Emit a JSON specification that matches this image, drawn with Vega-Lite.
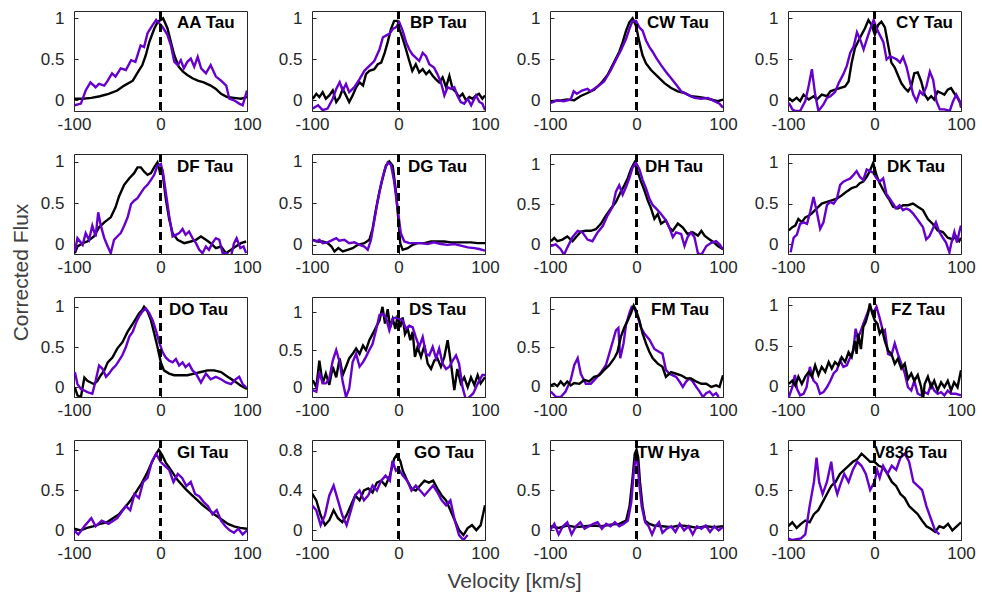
{
"$schema": "https://vega.github.io/schema/vega-lite/v6.json",
"padding": {"left": 9, "top": 8, "right": 5, "bottom": 5},
"background": "white",
"columns": 4,
"spacing": {"row": 43, "column": 65},
"bounds": "flush",
"config": {
  "view": {"stroke": "#262626", "strokeWidth": 1},
  "axis": {"grid": false, "domain": false, "tickSize": -4, "tickColor": "#262626", "tickWidth": 1, "labelFont": "Liberation Sans", "labelFontSize": 17, "labelColor": "#262626", "labelExpr": "'' + datum.value", "titleFont": "Liberation Sans", "titleFontSize": 21, "titleFontWeight": "normal", "titleColor": "#404040"},
  "axisX": {"labelPadding": 9, "labelFlush": false},
  "axisY": {"labelPadding": 14},
  "title": {"anchor": "start", "frame": "group", "offset": -23, "baseline": "alphabetic", "font": "Liberation Sans", "fontSize": 17, "fontWeight": "bold", "color": "#000000"},
  "line": {"strokeWidth": 2.4}
},
"datasets": {
"AA Tau": [
{"ser":"k","v":-100,"f":0.02},{"ser":"k","v":-90,"f":0.02},{"ser":"k","v":-80,"f":0.03},{"ser":"k","v":-70,"f":0.05},{"ser":"k","v":-60,"f":0.08},{"ser":"k","v":-50,"f":0.12},{"ser":"k","v":-42,"f":0.18},{"ser":"k","v":-32,"f":0.24},{"ser":"k","v":-27,"f":0.33},{"ser":"k","v":-21,"f":0.43},{"ser":"k","v":-17,"f":0.55},{"ser":"k","v":-13,"f":0.71},{"ser":"k","v":-7,"f":0.88},{"ser":"k","v":-3,"f":0.96},{"ser":"k","v":3,"f":1.0},{"ser":"k","v":8,"f":0.88},{"ser":"k","v":12,"f":0.71},{"ser":"k","v":16,"f":0.55},{"ser":"k","v":21,"f":0.41},{"ser":"k","v":26,"f":0.35},{"ser":"k","v":31,"f":0.31},{"ser":"k","v":37,"f":0.27},{"ser":"k","v":43,"f":0.24},{"ser":"k","v":50,"f":0.22},{"ser":"k","v":58,"f":0.18},{"ser":"k","v":64,"f":0.14},{"ser":"k","v":70,"f":0.08},{"ser":"k","v":77,"f":0.04},{"ser":"k","v":85,"f":0.03},{"ser":"k","v":93,"f":0.02},{"ser":"k","v":100,"f":0.04},
{"ser":"p","v":-99,"f":-0.06},{"ser":"p","v":-92,"f":-0.04},{"ser":"p","v":-86.5,"f":0.12},{"ser":"p","v":-81,"f":0.22},{"ser":"p","v":-75,"f":0.16},{"ser":"p","v":-71,"f":0.2},{"ser":"p","v":-65,"f":0.18},{"ser":"p","v":-61,"f":0.24},{"ser":"p","v":-56,"f":0.33},{"ser":"p","v":-52,"f":0.29},{"ser":"p","v":-46,"f":0.39},{"ser":"p","v":-40,"f":0.37},{"ser":"p","v":-34,"f":0.49},{"ser":"p","v":-29,"f":0.47},{"ser":"p","v":-23,"f":0.67},{"ser":"p","v":-19,"f":0.65},{"ser":"p","v":-15,"f":0.82},{"ser":"p","v":-9,"f":0.92},{"ser":"p","v":-5,"f":0.98},{"ser":"p","v":-1.5,"f":0.94},{"ser":"p","v":2,"f":0.9},{"ser":"p","v":8,"f":0.8},{"ser":"p","v":12,"f":0.67},{"ser":"p","v":16,"f":0.47},{"ser":"p","v":20,"f":0.43},{"ser":"p","v":23.5,"f":0.49},{"ser":"p","v":27,"f":0.39},{"ser":"p","v":31,"f":0.47},{"ser":"p","v":35,"f":0.51},{"ser":"p","v":39,"f":0.41},{"ser":"p","v":43,"f":0.53},{"ser":"p","v":47,"f":0.39},{"ser":"p","v":52.5,"f":0.33},{"ser":"p","v":58,"f":0.43},{"ser":"p","v":64,"f":0.29},{"ser":"p","v":70,"f":0.24},{"ser":"p","v":76,"f":0.18},{"ser":"p","v":79.5,"f":0.02},{"ser":"p","v":85,"f":0.0},{"ser":"p","v":91,"f":-0.04},{"ser":"p","v":95,"f":-0.06},{"ser":"p","v":100,"f":0.12}
],
"BP Tau": [
{"ser":"k","v":-99,"f":0.02},{"ser":"k","v":-95,"f":0.08},{"ser":"k","v":-91.5,"f":0.04},{"ser":"k","v":-87.7,"f":0.1},{"ser":"k","v":-84,"f":0.02},{"ser":"k","v":-80,"f":0.06},{"ser":"k","v":-76,"f":0.12},{"ser":"k","v":-72,"f":-0.02},{"ser":"k","v":-68,"f":0.04},{"ser":"k","v":-64.5,"f":0.14},{"ser":"k","v":-60.7,"f":0.06},{"ser":"k","v":-57,"f":-0.02},{"ser":"k","v":-53,"f":0.06},{"ser":"k","v":-49,"f":0.16},{"ser":"k","v":-45,"f":0.22},{"ser":"k","v":-41,"f":0.18},{"ser":"k","v":-37.6,"f":0.32},{"ser":"k","v":-33.7,"f":0.36},{"ser":"k","v":-28,"f":0.38},{"ser":"k","v":-24,"f":0.44},{"ser":"k","v":-20,"f":0.46},{"ser":"k","v":-16,"f":0.58},{"ser":"k","v":-12.5,"f":0.71},{"ser":"k","v":-8.7,"f":0.87},{"ser":"k","v":-5,"f":0.97},{"ser":"k","v":-1,"f":0.97},{"ser":"k","v":1,"f":0.87},{"ser":"k","v":5,"f":0.75},{"ser":"k","v":8.7,"f":0.62},{"ser":"k","v":12.5,"f":0.48},{"ser":"k","v":16,"f":0.36},{"ser":"k","v":20,"f":0.44},{"ser":"k","v":24,"f":0.34},{"ser":"k","v":28,"f":0.38},{"ser":"k","v":32,"f":0.32},{"ser":"k","v":35.6,"f":0.36},{"ser":"k","v":39.5,"f":0.3},{"ser":"k","v":43,"f":0.26},{"ser":"k","v":47,"f":0.22},{"ser":"k","v":51,"f":0.28},{"ser":"k","v":55,"f":0.16},{"ser":"k","v":58.8,"f":0.3},{"ser":"k","v":62.6,"f":0.14},{"ser":"k","v":66.5,"f":0.1},{"ser":"k","v":70,"f":0.04},{"ser":"k","v":74,"f":0.08},{"ser":"k","v":78,"f":0.0},{"ser":"k","v":82,"f":0.04},{"ser":"k","v":85.7,"f":0.02},{"ser":"k","v":89.6,"f":0.06},{"ser":"k","v":93,"f":0.08},{"ser":"k","v":97,"f":0.02},{"ser":"k","v":100,"f":0.06},
{"ser":"p","v":-99,"f":-0.1},{"ser":"p","v":-93,"f":-0.06},{"ser":"p","v":-87.7,"f":-0.12},{"ser":"p","v":-82,"f":-0.1},{"ser":"p","v":-76,"f":0.02},{"ser":"p","v":-72,"f":0.14},{"ser":"p","v":-68,"f":0.22},{"ser":"p","v":-64.5,"f":0.12},{"ser":"p","v":-60.7,"f":0.2},{"ser":"p","v":-57,"f":0.1},{"ser":"p","v":-51,"f":0.16},{"ser":"p","v":-45,"f":0.26},{"ser":"p","v":-39.5,"f":0.36},{"ser":"p","v":-33.7,"f":0.42},{"ser":"p","v":-28,"f":0.48},{"ser":"p","v":-22,"f":0.62},{"ser":"p","v":-18,"f":0.77},{"ser":"p","v":-14.5,"f":0.79},{"ser":"p","v":-10.6,"f":0.81},{"ser":"p","v":-6.7,"f":0.87},{"ser":"p","v":-3,"f":0.89},{"ser":"p","v":1,"f":0.95},{"ser":"p","v":4.8,"f":0.85},{"ser":"p","v":8.7,"f":0.71},{"ser":"p","v":12.5,"f":0.62},{"ser":"p","v":16,"f":0.56},{"ser":"p","v":20,"f":0.52},{"ser":"p","v":24,"f":0.48},{"ser":"p","v":28,"f":0.58},{"ser":"p","v":31.8,"f":0.54},{"ser":"p","v":35.6,"f":0.44},{"ser":"p","v":41,"f":0.4},{"ser":"p","v":45,"f":0.32},{"ser":"p","v":49,"f":0.22},{"ser":"p","v":53,"f":0.06},{"ser":"p","v":56.8,"f":0.16},{"ser":"p","v":60.7,"f":0.14},{"ser":"p","v":64.5,"f":0.16},{"ser":"p","v":68,"f":0.06},{"ser":"p","v":72,"f":-0.02},{"ser":"p","v":76,"f":-0.04},{"ser":"p","v":80,"f":0.02},{"ser":"p","v":84,"f":-0.06},{"ser":"p","v":89.6,"f":0.06},{"ser":"p","v":93.5,"f":-0.02},{"ser":"p","v":97,"f":-0.04},{"ser":"p","v":100,"f":-0.12}
],
"CW Tau": [
{"ser":"k","v":-99,"f":-0.01},{"ser":"k","v":-87.6,"f":0.0},{"ser":"k","v":-80,"f":0.01},{"ser":"k","v":-72,"f":0.0},{"ser":"k","v":-65,"f":0.05},{"ser":"k","v":-56.7,"f":0.09},{"ser":"k","v":-49,"f":0.13},{"ser":"k","v":-41,"f":0.21},{"ser":"k","v":-33.5,"f":0.31},{"ser":"k","v":-25.7,"f":0.47},{"ser":"k","v":-20,"f":0.59},{"ser":"k","v":-16,"f":0.71},{"ser":"k","v":-12,"f":0.85},{"ser":"k","v":-8.3,"f":0.95},{"ser":"k","v":-4.5,"f":1.0},{"ser":"k","v":-0.6,"f":0.91},{"ser":"k","v":3.3,"f":0.71},{"ser":"k","v":7,"f":0.55},{"ser":"k","v":11,"f":0.45},{"ser":"k","v":16.8,"f":0.37},{"ser":"k","v":24.6,"f":0.29},{"ser":"k","v":32.3,"f":0.21},{"ser":"k","v":40,"f":0.15},{"ser":"k","v":47.8,"f":0.11},{"ser":"k","v":55.5,"f":0.09},{"ser":"k","v":63,"f":0.05},{"ser":"k","v":71,"f":0.04},{"ser":"k","v":78.7,"f":0.03},{"ser":"k","v":86,"f":0.01},{"ser":"k","v":94,"f":-0.01},{"ser":"k","v":100,"f":0.01},
{"ser":"p","v":-99,"f":-0.03},{"ser":"p","v":-91.5,"f":0.0},{"ser":"p","v":-84,"f":-0.01},{"ser":"p","v":-76,"f":0.01},{"ser":"p","v":-72.6,"f":0.11},{"ser":"p","v":-69,"f":0.08},{"ser":"p","v":-63,"f":0.12},{"ser":"p","v":-56.7,"f":0.14},{"ser":"p","v":-53,"f":0.11},{"ser":"p","v":-45,"f":0.17},{"ser":"p","v":-37.5,"f":0.23},{"ser":"p","v":-33.5,"f":0.3},{"ser":"p","v":-29.6,"f":0.37},{"ser":"p","v":-24,"f":0.49},{"ser":"p","v":-18,"f":0.61},{"ser":"p","v":-12,"f":0.75},{"ser":"p","v":-8.3,"f":0.87},{"ser":"p","v":-4.5,"f":0.97},{"ser":"p","v":-0.6,"f":0.97},{"ser":"p","v":3.3,"f":0.89},{"ser":"p","v":7,"f":0.85},{"ser":"p","v":11,"f":0.73},{"ser":"p","v":15,"f":0.65},{"ser":"p","v":18.8,"f":0.59},{"ser":"p","v":22.6,"f":0.52},{"ser":"p","v":28.4,"f":0.43},{"ser":"p","v":34,"f":0.35},{"ser":"p","v":40,"f":0.27},{"ser":"p","v":46,"f":0.19},{"ser":"p","v":51.6,"f":0.11},{"ser":"p","v":59,"f":0.07},{"ser":"p","v":67,"f":0.03},{"ser":"p","v":75,"f":0.02},{"ser":"p","v":82.6,"f":0.03},{"ser":"p","v":90,"f":-0.01},{"ser":"p","v":96,"f":-0.04},{"ser":"p","v":100,"f":-0.09}
],
"CY Tau": [
{"ser":"k","v":-99,"f":0.03},{"ser":"k","v":-95,"f":-0.01},{"ser":"k","v":-90,"f":0.03},{"ser":"k","v":-86,"f":-0.01},{"ser":"k","v":-82,"f":0.07},{"ser":"k","v":-76,"f":0.01},{"ser":"k","v":-70.5,"f":0.05},{"ser":"k","v":-66.7,"f":0.01},{"ser":"k","v":-61,"f":0.07},{"ser":"k","v":-55,"f":0.05},{"ser":"k","v":-51,"f":0.11},{"ser":"k","v":-45.6,"f":0.13},{"ser":"k","v":-40,"f":0.15},{"ser":"k","v":-34,"f":0.17},{"ser":"k","v":-30,"f":0.23},{"ser":"k","v":-26.4,"f":0.46},{"ser":"k","v":-22.6,"f":0.64},{"ser":"k","v":-18.8,"f":0.72},{"ser":"k","v":-15,"f":0.8},{"ser":"k","v":-11,"f":0.88},{"ser":"k","v":-7,"f":0.98},{"ser":"k","v":-3.4,"f":0.92},{"ser":"k","v":0.4,"f":0.8},{"ser":"k","v":4.2,"f":0.92},{"ser":"k","v":8,"f":0.96},{"ser":"k","v":12,"f":0.89},{"ser":"k","v":15.7,"f":0.68},{"ser":"k","v":19.5,"f":0.46},{"ser":"k","v":23.4,"f":0.4},{"ser":"k","v":27,"f":0.31},{"ser":"k","v":31,"f":0.21},{"ser":"k","v":35,"f":0.15},{"ser":"k","v":38.7,"f":0.11},{"ser":"k","v":42.5,"f":0.17},{"ser":"k","v":46,"f":0.33},{"ser":"k","v":50,"f":0.34},{"ser":"k","v":54,"f":0.23},{"ser":"k","v":58,"f":0.07},{"ser":"k","v":61.7,"f":0.01},{"ser":"k","v":65.5,"f":0.05},{"ser":"k","v":69,"f":0.01},{"ser":"k","v":73,"f":0.11},{"ser":"k","v":77,"f":0.09},{"ser":"k","v":80.8,"f":0.07},{"ser":"k","v":84.7,"f":0.13},{"ser":"k","v":88.5,"f":0.15},{"ser":"k","v":92,"f":0.09},{"ser":"k","v":96,"f":0.03},{"ser":"k","v":100,"f":-0.05},
{"ser":"p","v":-99,"f":-0.03},{"ser":"p","v":-95,"f":-0.11},{"ser":"p","v":-91.6,"f":-0.13},{"ser":"p","v":-86,"f":-0.13},{"ser":"p","v":-80,"f":-0.01},{"ser":"p","v":-76,"f":0.18},{"ser":"p","v":-72.4,"f":0.38},{"ser":"p","v":-68.6,"f":0.07},{"ser":"p","v":-64.8,"f":-0.13},{"ser":"p","v":-59,"f":-0.05},{"ser":"p","v":-55,"f":0.03},{"ser":"p","v":-51,"f":0.05},{"ser":"p","v":-45.6,"f":0.1},{"ser":"p","v":-41.5,"f":0.21},{"ser":"p","v":-36,"f":0.32},{"ser":"p","v":-32,"f":0.42},{"ser":"p","v":-28,"f":0.58},{"ser":"p","v":-24,"f":0.66},{"ser":"p","v":-20.3,"f":0.83},{"ser":"p","v":-16.5,"f":0.74},{"ser":"p","v":-12.6,"f":0.62},{"ser":"p","v":-9,"f":0.74},{"ser":"p","v":-5,"f":0.87},{"ser":"p","v":-1,"f":0.98},{"ser":"p","v":2.7,"f":0.87},{"ser":"p","v":6.5,"f":0.79},{"ser":"p","v":10.3,"f":0.71},{"ser":"p","v":14,"f":0.5},{"ser":"p","v":18,"f":0.54},{"ser":"p","v":21.8,"f":0.52},{"ser":"p","v":25.6,"f":0.5},{"ser":"p","v":29.5,"f":0.46},{"ser":"p","v":33,"f":0.53},{"ser":"p","v":37,"f":0.41},{"ser":"p","v":41,"f":0.23},{"ser":"p","v":44.8,"f":0.07},{"ser":"p","v":48.6,"f":-0.01},{"ser":"p","v":52.5,"f":0.11},{"ser":"p","v":56,"f":0.07},{"ser":"p","v":60,"f":0.17},{"ser":"p","v":64,"f":0.35},{"ser":"p","v":67.8,"f":0.25},{"ser":"p","v":71.6,"f":-0.01},{"ser":"p","v":75.5,"f":-0.11},{"ser":"p","v":81,"f":-0.11},{"ser":"p","v":87,"f":-0.13},{"ser":"p","v":90.8,"f":-0.01},{"ser":"p","v":94.6,"f":0.07},{"ser":"p","v":98.5,"f":-0.01},{"ser":"p","v":100,"f":-0.09}
],
"DF Tau": [
{"ser":"k","v":-99,"f":-0.1},{"ser":"k","v":-96,"f":-0.02},{"ser":"k","v":-90,"f":0.02},{"ser":"k","v":-84.5,"f":0.04},{"ser":"k","v":-77,"f":0.1},{"ser":"k","v":-71,"f":0.21},{"ser":"k","v":-65,"f":0.27},{"ser":"k","v":-57.5,"f":0.33},{"ser":"k","v":-52,"f":0.45},{"ser":"k","v":-48,"f":0.58},{"ser":"k","v":-42,"f":0.72},{"ser":"k","v":-36,"f":0.8},{"ser":"k","v":-30.5,"f":0.86},{"ser":"k","v":-26.6,"f":0.93},{"ser":"k","v":-22.8,"f":0.93},{"ser":"k","v":-19,"f":0.88},{"ser":"k","v":-15,"f":0.84},{"ser":"k","v":-11,"f":0.86},{"ser":"k","v":-7.3,"f":0.93},{"ser":"k","v":-3.5,"f":0.99},{"ser":"k","v":-0.4,"f":0.86},{"ser":"k","v":2.3,"f":0.88},{"ser":"k","v":6,"f":0.56},{"ser":"k","v":10,"f":0.31},{"ser":"k","v":14,"f":0.14},{"ser":"k","v":19.7,"f":0.06},{"ser":"k","v":27.4,"f":0.02},{"ser":"k","v":35,"f":0.04},{"ser":"k","v":41,"f":0.06},{"ser":"k","v":46.7,"f":0.1},{"ser":"k","v":52.5,"f":0.06},{"ser":"k","v":58,"f":0.02},{"ser":"k","v":64,"f":-0.04},{"ser":"k","v":70,"f":-0.02},{"ser":"k","v":75.7,"f":-0.1},{"ser":"k","v":81.5,"f":-0.06},{"ser":"k","v":87,"f":-0.02},{"ser":"k","v":93,"f":0.02},{"ser":"k","v":99,"f":0.04},
{"ser":"p","v":-99,"f":-0.08},{"ser":"p","v":-96,"f":0.08},{"ser":"p","v":-90,"f":0.0},{"ser":"p","v":-86.5,"f":0.14},{"ser":"p","v":-82.6,"f":0.06},{"ser":"p","v":-78.8,"f":0.23},{"ser":"p","v":-75,"f":0.1},{"ser":"p","v":-72,"f":0.39},{"ser":"p","v":-69,"f":0.23},{"ser":"p","v":-65,"f":0.08},{"ser":"p","v":-61,"f":-0.02},{"ser":"p","v":-57.5,"f":-0.1},{"ser":"p","v":-53.7,"f":0.06},{"ser":"p","v":-50,"f":0.1},{"ser":"p","v":-46,"f":0.14},{"ser":"p","v":-42,"f":0.23},{"ser":"p","v":-38,"f":0.33},{"ser":"p","v":-34,"f":0.49},{"ser":"p","v":-30.5,"f":0.53},{"ser":"p","v":-26.6,"f":0.56},{"ser":"p","v":-22.8,"f":0.62},{"ser":"p","v":-19,"f":0.68},{"ser":"p","v":-15,"f":0.72},{"ser":"p","v":-11,"f":0.78},{"ser":"p","v":-7.3,"f":0.84},{"ser":"p","v":-3.5,"f":0.95},{"ser":"p","v":0.4,"f":0.97},{"ser":"p","v":3,"f":0.86},{"ser":"p","v":6,"f":0.64},{"ser":"p","v":10,"f":0.35},{"ser":"p","v":14,"f":0.1},{"ser":"p","v":17.8,"f":0.12},{"ser":"p","v":21.6,"f":0.14},{"ser":"p","v":25.5,"f":0.19},{"ser":"p","v":29,"f":0.12},{"ser":"p","v":33,"f":0.16},{"ser":"p","v":37,"f":0.08},{"ser":"p","v":41,"f":0.02},{"ser":"p","v":44.8,"f":-0.06},{"ser":"p","v":48.6,"f":-0.1},{"ser":"p","v":52.5,"f":-0.02},{"ser":"p","v":56,"f":-0.06},{"ser":"p","v":60,"f":0.02},{"ser":"p","v":64,"f":0.08},{"ser":"p","v":68,"f":0.06},{"ser":"p","v":71.8,"f":-0.1},{"ser":"p","v":75.7,"f":-0.1},{"ser":"p","v":81.5,"f":-0.14},{"ser":"p","v":85,"f":0.02},{"ser":"p","v":88,"f":0.08},{"ser":"p","v":92.3,"f":-0.04},{"ser":"p","v":96,"f":-0.02},{"ser":"p","v":99,"f":-0.1}
],
"DG Tau": [
{"ser":"k","v":-99,"f":0.06},{"ser":"k","v":-93.4,"f":0.04},{"ser":"k","v":-87.7,"f":0.04},{"ser":"k","v":-82,"f":0.02},{"ser":"k","v":-77.5,"f":-0.02},{"ser":"k","v":-74,"f":-0.08},{"ser":"k","v":-69.5,"f":-0.04},{"ser":"k","v":-64.5,"f":-0.08},{"ser":"k","v":-58.8,"f":-0.06},{"ser":"k","v":-53,"f":-0.04},{"ser":"k","v":-47,"f":0.0},{"ser":"k","v":-39.5,"f":0.02},{"ser":"k","v":-33.7,"f":0.06},{"ser":"k","v":-30,"f":0.19},{"ser":"k","v":-26,"f":0.43},{"ser":"k","v":-22,"f":0.64},{"ser":"k","v":-18.3,"f":0.8},{"ser":"k","v":-14.5,"f":0.95},{"ser":"k","v":-10.6,"f":1.0},{"ser":"k","v":-6.7,"f":0.95},{"ser":"k","v":-3,"f":0.64},{"ser":"k","v":-0.2,"f":0.31},{"ser":"k","v":2,"f":0.02},{"ser":"k","v":4.8,"f":-0.06},{"ser":"k","v":10.6,"f":-0.04},{"ser":"k","v":16.4,"f":0.0},{"ser":"k","v":22,"f":0.02},{"ser":"k","v":30,"f":0.02},{"ser":"k","v":37.6,"f":0.04},{"ser":"k","v":45,"f":0.04},{"ser":"k","v":53,"f":0.04},{"ser":"k","v":60.7,"f":0.03},{"ser":"k","v":68,"f":0.03},{"ser":"k","v":76,"f":0.03},{"ser":"k","v":83.8,"f":0.03},{"ser":"k","v":91.5,"f":0.02},{"ser":"k","v":100,"f":0.02},
{"ser":"p","v":-99,"f":0.06},{"ser":"p","v":-95,"f":0.04},{"ser":"p","v":-91.5,"f":0.06},{"ser":"p","v":-87.7,"f":0.02},{"ser":"p","v":-82,"f":0.03},{"ser":"p","v":-76,"f":0.06},{"ser":"p","v":-72,"f":0.08},{"ser":"p","v":-68.6,"f":0.05},{"ser":"p","v":-62.6,"f":0.06},{"ser":"p","v":-57,"f":0.02},{"ser":"p","v":-51,"f":0.03},{"ser":"p","v":-45,"f":0.0},{"ser":"p","v":-39.5,"f":-0.02},{"ser":"p","v":-35.6,"f":-0.06},{"ser":"p","v":-31.8,"f":0.06},{"ser":"p","v":-28,"f":0.29},{"ser":"p","v":-24,"f":0.53},{"ser":"p","v":-20,"f":0.74},{"ser":"p","v":-16,"f":0.9},{"ser":"p","v":-12.5,"f":0.99},{"ser":"p","v":-8.7,"f":0.96},{"ser":"p","v":-5,"f":0.76},{"ser":"p","v":-1,"f":0.43},{"ser":"p","v":2.7,"f":0.14},{"ser":"p","v":6.7,"f":0.04},{"ser":"p","v":12.5,"f":0.02},{"ser":"p","v":18,"f":0.02},{"ser":"p","v":26,"f":0.02},{"ser":"p","v":33.7,"f":0.01},{"ser":"p","v":41,"f":0.03},{"ser":"p","v":49,"f":0.01},{"ser":"p","v":56.8,"f":0.0},{"ser":"p","v":64.5,"f":0.01},{"ser":"p","v":72,"f":-0.01},{"ser":"p","v":80,"f":-0.03},{"ser":"p","v":87.7,"f":-0.04},{"ser":"p","v":93.4,"f":-0.05},{"ser":"p","v":100,"f":-0.07}
],
"DH Tau": [
{"ser":"k","v":-99,"f":0.04},{"ser":"k","v":-95,"f":0.08},{"ser":"k","v":-91.5,"f":0.04},{"ser":"k","v":-85.7,"f":0.06},{"ser":"k","v":-80,"f":0.1},{"ser":"k","v":-74,"f":0.04},{"ser":"k","v":-70,"f":0.09},{"ser":"k","v":-64.4,"f":0.16},{"ser":"k","v":-58.6,"f":0.17},{"ser":"k","v":-52.8,"f":0.17},{"ser":"k","v":-47,"f":0.19},{"ser":"k","v":-41,"f":0.26},{"ser":"k","v":-35.4,"f":0.36},{"ser":"k","v":-29.6,"f":0.45},{"ser":"k","v":-23.8,"f":0.53},{"ser":"k","v":-18,"f":0.66},{"ser":"k","v":-14,"f":0.74},{"ser":"k","v":-10,"f":0.83},{"ser":"k","v":-6.4,"f":0.94},{"ser":"k","v":-2.5,"f":1.02},{"ser":"k","v":1.3,"f":0.91},{"ser":"k","v":5,"f":0.79},{"ser":"k","v":9,"f":0.68},{"ser":"k","v":13,"f":0.55},{"ser":"k","v":16.8,"f":0.45},{"ser":"k","v":20.7,"f":0.32},{"ser":"k","v":24.6,"f":0.38},{"ser":"k","v":28.4,"f":0.26},{"ser":"k","v":34,"f":0.3},{"ser":"k","v":38,"f":0.21},{"ser":"k","v":42,"f":0.17},{"ser":"k","v":47.8,"f":0.26},{"ser":"k","v":53.6,"f":0.21},{"ser":"k","v":59,"f":0.13},{"ser":"k","v":65,"f":0.15},{"ser":"k","v":71,"f":0.11},{"ser":"k","v":75,"f":0.17},{"ser":"k","v":78.7,"f":0.11},{"ser":"k","v":84.5,"f":0.06},{"ser":"k","v":90,"f":0.02},{"ser":"k","v":94,"f":-0.02},{"ser":"k","v":100,"f":-0.06},
{"ser":"p","v":-99,"f":-0.02},{"ser":"p","v":-93.4,"f":0.0},{"ser":"p","v":-87.6,"f":-0.06},{"ser":"p","v":-83.8,"f":-0.13},{"ser":"p","v":-80,"f":-0.04},{"ser":"p","v":-74,"f":0.09},{"ser":"p","v":-68,"f":0.17},{"ser":"p","v":-62.5,"f":0.15},{"ser":"p","v":-56.6,"f":0.06},{"ser":"p","v":-51,"f":0.04},{"ser":"p","v":-45,"f":0.15},{"ser":"p","v":-39,"f":0.23},{"ser":"p","v":-33.5,"f":0.36},{"ser":"p","v":-27.6,"f":0.47},{"ser":"p","v":-23.8,"f":0.66},{"ser":"p","v":-20,"f":0.74},{"ser":"p","v":-16,"f":0.62},{"ser":"p","v":-12,"f":0.72},{"ser":"p","v":-8.3,"f":0.83},{"ser":"p","v":-4.5,"f":0.96},{"ser":"p","v":-0.6,"f":1.02},{"ser":"p","v":3.3,"f":0.94},{"ser":"p","v":7,"f":0.81},{"ser":"p","v":11,"f":0.7},{"ser":"p","v":15,"f":0.57},{"ser":"p","v":18.8,"f":0.49},{"ser":"p","v":22.6,"f":0.45},{"ser":"p","v":28.4,"f":0.38},{"ser":"p","v":34,"f":0.3},{"ser":"p","v":38,"f":0.21},{"ser":"p","v":42,"f":0.09},{"ser":"p","v":45.8,"f":0.15},{"ser":"p","v":51.6,"f":0.13},{"ser":"p","v":55.5,"f":-0.02},{"ser":"p","v":59,"f":0.09},{"ser":"p","v":63,"f":0.15},{"ser":"p","v":67,"f":0.09},{"ser":"p","v":71,"f":-0.11},{"ser":"p","v":75,"f":-0.13},{"ser":"p","v":80.8,"f":-0.02},{"ser":"p","v":86.5,"f":0.02},{"ser":"p","v":92,"f":0.04},{"ser":"p","v":96,"f":0.0},{"ser":"p","v":100,"f":-0.06}
],
"DK Tau": [
{"ser":"k","v":-99,"f":0.17},{"ser":"k","v":-95,"f":0.21},{"ser":"k","v":-91.6,"f":0.23},{"ser":"k","v":-88,"f":0.31},{"ser":"k","v":-84,"f":0.27},{"ser":"k","v":-80,"f":0.33},{"ser":"k","v":-76,"f":0.35},{"ser":"k","v":-72.4,"f":0.38},{"ser":"k","v":-66.7,"f":0.44},{"ser":"k","v":-61,"f":0.5},{"ser":"k","v":-55,"f":0.52},{"ser":"k","v":-49.4,"f":0.54},{"ser":"k","v":-43.7,"f":0.56},{"ser":"k","v":-38,"f":0.6},{"ser":"k","v":-32,"f":0.65},{"ser":"k","v":-26.4,"f":0.69},{"ser":"k","v":-20.7,"f":0.71},{"ser":"k","v":-17,"f":0.75},{"ser":"k","v":-13,"f":0.77},{"ser":"k","v":-9,"f":0.83},{"ser":"k","v":-5.4,"f":0.9},{"ser":"k","v":-1.5,"f":1.0},{"ser":"k","v":2.3,"f":0.85},{"ser":"k","v":6,"f":0.75},{"ser":"k","v":10,"f":0.67},{"ser":"k","v":13.8,"f":0.6},{"ser":"k","v":17.6,"f":0.54},{"ser":"k","v":21.5,"f":0.46},{"ser":"k","v":27,"f":0.44},{"ser":"k","v":33,"f":0.48},{"ser":"k","v":38.7,"f":0.48},{"ser":"k","v":44.4,"f":0.5},{"ser":"k","v":50,"f":0.46},{"ser":"k","v":56,"f":0.42},{"ser":"k","v":61.7,"f":0.31},{"ser":"k","v":67.4,"f":0.25},{"ser":"k","v":73,"f":0.17},{"ser":"k","v":79,"f":0.15},{"ser":"k","v":84.7,"f":0.08},{"ser":"k","v":90.4,"f":0.06},{"ser":"k","v":94,"f":0.1},{"ser":"k","v":98,"f":0.04},{"ser":"k","v":100,"f":0.08},
{"ser":"p","v":-97,"f":-0.1},{"ser":"p","v":-93.5,"f":0.08},{"ser":"p","v":-89.7,"f":0.12},{"ser":"p","v":-86,"f":0.25},{"ser":"p","v":-82,"f":0.27},{"ser":"p","v":-78,"f":0.25},{"ser":"p","v":-74.3,"f":0.4},{"ser":"p","v":-70.5,"f":0.58},{"ser":"p","v":-66.7,"f":0.4},{"ser":"p","v":-62.8,"f":0.19},{"ser":"p","v":-59,"f":0.27},{"ser":"p","v":-55,"f":0.48},{"ser":"p","v":-51,"f":0.52},{"ser":"p","v":-47.3,"f":0.5},{"ser":"p","v":-43.5,"f":0.56},{"ser":"p","v":-39.7,"f":0.73},{"ser":"p","v":-36,"f":0.77},{"ser":"p","v":-32,"f":0.79},{"ser":"p","v":-28,"f":0.81},{"ser":"p","v":-24.5,"f":0.85},{"ser":"p","v":-20.7,"f":0.9},{"ser":"p","v":-17,"f":0.83},{"ser":"p","v":-13,"f":0.79},{"ser":"p","v":-9,"f":0.92},{"ser":"p","v":-5.4,"f":0.9},{"ser":"p","v":-1.5,"f":0.88},{"ser":"p","v":2.3,"f":0.81},{"ser":"p","v":6,"f":0.77},{"ser":"p","v":10,"f":0.81},{"ser":"p","v":13.8,"f":0.62},{"ser":"p","v":17.6,"f":0.56},{"ser":"p","v":21.5,"f":0.5},{"ser":"p","v":25,"f":0.44},{"ser":"p","v":29,"f":0.48},{"ser":"p","v":33,"f":0.42},{"ser":"p","v":36.8,"f":0.44},{"ser":"p","v":40.6,"f":0.42},{"ser":"p","v":44.4,"f":0.38},{"ser":"p","v":48,"f":0.33},{"ser":"p","v":52,"f":0.27},{"ser":"p","v":56,"f":0.21},{"ser":"p","v":59.8,"f":0.06},{"ser":"p","v":63.6,"f":0.1},{"ser":"p","v":67.4,"f":0.19},{"ser":"p","v":71,"f":0.27},{"ser":"p","v":75,"f":0.15},{"ser":"p","v":79,"f":0.08},{"ser":"p","v":82.7,"f":0.02},{"ser":"p","v":86.6,"f":-0.1},{"ser":"p","v":89,"f":0.02},{"ser":"p","v":92.3,"f":0.15},{"ser":"p","v":95.4,"f":0.02},{"ser":"p","v":98,"f":0.15},{"ser":"p","v":100,"f":0.23}
],
"DO Tau": [
{"ser":"k","v":-99,"f":0.0},{"ser":"k","v":-96,"f":-0.1},{"ser":"k","v":-92,"f":-0.12},{"ser":"k","v":-88,"f":0.12},{"ser":"k","v":-84.5,"f":0.08},{"ser":"k","v":-80.7,"f":0.06},{"ser":"k","v":-77,"f":0.04},{"ser":"k","v":-73,"f":0.08},{"ser":"k","v":-69,"f":0.15},{"ser":"k","v":-65,"f":0.21},{"ser":"k","v":-61,"f":0.31},{"ser":"k","v":-55.6,"f":0.37},{"ser":"k","v":-50,"f":0.48},{"ser":"k","v":-44,"f":0.56},{"ser":"k","v":-38,"f":0.69},{"ser":"k","v":-32,"f":0.79},{"ser":"k","v":-28.6,"f":0.85},{"ser":"k","v":-24.7,"f":0.92},{"ser":"k","v":-21,"f":0.96},{"ser":"k","v":-19,"f":1.0},{"ser":"k","v":-15,"f":0.94},{"ser":"k","v":-11,"f":0.83},{"ser":"k","v":-7.3,"f":0.67},{"ser":"k","v":-3.5,"f":0.5},{"ser":"k","v":0.4,"f":0.31},{"ser":"k","v":4,"f":0.21},{"ser":"k","v":10,"f":0.17},{"ser":"k","v":15.8,"f":0.15},{"ser":"k","v":23.5,"f":0.15},{"ser":"k","v":31,"f":0.15},{"ser":"k","v":39,"f":0.17},{"ser":"k","v":46.7,"f":0.19},{"ser":"k","v":54.4,"f":0.21},{"ser":"k","v":62,"f":0.21},{"ser":"k","v":70,"f":0.19},{"ser":"k","v":77.6,"f":0.13},{"ser":"k","v":85,"f":0.08},{"ser":"k","v":93,"f":0.02},{"ser":"k","v":100,"f":-0.02},
{"ser":"p","v":-99,"f":0.19},{"ser":"p","v":-96,"f":0.04},{"ser":"p","v":-92,"f":-0.02},{"ser":"p","v":-88,"f":-0.04},{"ser":"p","v":-84.5,"f":-0.06},{"ser":"p","v":-78.8,"f":-0.08},{"ser":"p","v":-75,"f":0.08},{"ser":"p","v":-71,"f":0.27},{"ser":"p","v":-67,"f":0.23},{"ser":"p","v":-63,"f":0.13},{"ser":"p","v":-59.5,"f":0.17},{"ser":"p","v":-55.6,"f":0.23},{"ser":"p","v":-51.7,"f":0.27},{"ser":"p","v":-48,"f":0.33},{"ser":"p","v":-44,"f":0.4},{"ser":"p","v":-40,"f":0.5},{"ser":"p","v":-36,"f":0.63},{"ser":"p","v":-32,"f":0.69},{"ser":"p","v":-28.6,"f":0.79},{"ser":"p","v":-24.7,"f":0.88},{"ser":"p","v":-21,"f":0.94},{"ser":"p","v":-17,"f":0.98},{"ser":"p","v":-13,"f":0.92},{"ser":"p","v":-9,"f":0.83},{"ser":"p","v":-5.4,"f":0.71},{"ser":"p","v":-1.5,"f":0.56},{"ser":"p","v":2.3,"f":0.44},{"ser":"p","v":6,"f":0.37},{"ser":"p","v":10,"f":0.33},{"ser":"p","v":14,"f":0.31},{"ser":"p","v":17.8,"f":0.35},{"ser":"p","v":21.6,"f":0.27},{"ser":"p","v":25.5,"f":0.31},{"ser":"p","v":29,"f":0.25},{"ser":"p","v":33,"f":0.29},{"ser":"p","v":37,"f":0.21},{"ser":"p","v":41,"f":0.17},{"ser":"p","v":46.7,"f":0.06},{"ser":"p","v":52.5,"f":0.17},{"ser":"p","v":58,"f":0.1},{"ser":"p","v":64,"f":0.13},{"ser":"p","v":70,"f":0.1},{"ser":"p","v":75.7,"f":0.06},{"ser":"p","v":81.5,"f":0.04},{"ser":"p","v":87,"f":0.1},{"ser":"p","v":91,"f":0.13},{"ser":"p","v":95,"f":0.04},{"ser":"p","v":99,"f":0.0}
],
"DS Tau": [
{"ser":"k","v":-99,"f":0.1},{"ser":"k","v":-95,"f":0.01},{"ser":"k","v":-91.5,"f":0.36},{"ser":"k","v":-87.7,"f":0.06},{"ser":"k","v":-84,"f":0.19},{"ser":"k","v":-80,"f":0.04},{"ser":"k","v":-76,"f":0.28},{"ser":"k","v":-72,"f":0.14},{"ser":"k","v":-68,"f":0.39},{"ser":"k","v":-64.5,"f":0.17},{"ser":"k","v":-60.7,"f":0.28},{"ser":"k","v":-57,"f":0.39},{"ser":"k","v":-53,"f":0.45},{"ser":"k","v":-49,"f":0.52},{"ser":"k","v":-45,"f":0.45},{"ser":"k","v":-41,"f":0.56},{"ser":"k","v":-37.6,"f":0.5},{"ser":"k","v":-33.7,"f":0.63},{"ser":"k","v":-30,"f":0.71},{"ser":"k","v":-26,"f":0.8},{"ser":"k","v":-22,"f":0.89},{"ser":"k","v":-18.5,"f":1.07},{"ser":"k","v":-15.6,"f":0.85},{"ser":"k","v":-12.5,"f":1.04},{"ser":"k","v":-9.6,"f":0.8},{"ser":"k","v":-6.7,"f":0.91},{"ser":"k","v":-3.6,"f":0.78},{"ser":"k","v":-1,"f":0.96},{"ser":"k","v":2,"f":0.8},{"ser":"k","v":4.8,"f":0.93},{"ser":"k","v":7.5,"f":0.71},{"ser":"k","v":10.6,"f":0.78},{"ser":"k","v":13.7,"f":0.63},{"ser":"k","v":16.4,"f":0.74},{"ser":"k","v":19,"f":0.41},{"ser":"k","v":22,"f":0.54},{"ser":"k","v":26,"f":0.41},{"ser":"k","v":30,"f":0.56},{"ser":"k","v":33.7,"f":0.32},{"ser":"k","v":37.6,"f":0.25},{"ser":"k","v":41.4,"f":0.36},{"ser":"k","v":45,"f":0.39},{"ser":"k","v":49,"f":0.28},{"ser":"k","v":53,"f":0.41},{"ser":"k","v":56.8,"f":0.63},{"ser":"k","v":60.7,"f":0.32},{"ser":"k","v":64.5,"f":-0.03},{"ser":"k","v":68,"f":0.25},{"ser":"k","v":72,"f":0.06},{"ser":"k","v":76,"f":0.14},{"ser":"k","v":80,"f":0.01},{"ser":"k","v":83.8,"f":0.14},{"ser":"k","v":87.7,"f":0.04},{"ser":"k","v":91.5,"f":0.17},{"ser":"k","v":95,"f":0.06},{"ser":"k","v":100,"f":0.14},
{"ser":"p","v":-99,"f":-0.03},{"ser":"p","v":-95,"f":-0.05},{"ser":"p","v":-91.5,"f":0.21},{"ser":"p","v":-87.7,"f":0.06},{"ser":"p","v":-84,"f":0.06},{"ser":"p","v":-80,"f":0.12},{"ser":"p","v":-76,"f":0.36},{"ser":"p","v":-72,"f":0.5},{"ser":"p","v":-68,"f":0.34},{"ser":"p","v":-64.5,"f":0.08},{"ser":"p","v":-60.7,"f":-0.12},{"ser":"p","v":-57,"f":-0.01},{"ser":"p","v":-53,"f":0.34},{"ser":"p","v":-49,"f":0.45},{"ser":"p","v":-45,"f":0.28},{"ser":"p","v":-41,"f":0.34},{"ser":"p","v":-37.6,"f":0.41},{"ser":"p","v":-33.7,"f":0.5},{"ser":"p","v":-30,"f":0.58},{"ser":"p","v":-26,"f":0.76},{"ser":"p","v":-22,"f":0.96},{"ser":"p","v":-18.5,"f":0.98},{"ser":"p","v":-14.5,"f":0.93},{"ser":"p","v":-10.6,"f":0.76},{"ser":"p","v":-6.7,"f":0.91},{"ser":"p","v":-3,"f":0.93},{"ser":"p","v":1,"f":0.91},{"ser":"p","v":4.8,"f":0.89},{"ser":"p","v":8.7,"f":0.78},{"ser":"p","v":12.5,"f":0.82},{"ser":"p","v":16.4,"f":0.8},{"ser":"p","v":20,"f":0.67},{"ser":"p","v":24,"f":0.54},{"ser":"p","v":28,"f":0.67},{"ser":"p","v":31.8,"f":0.45},{"ser":"p","v":35.6,"f":0.43},{"ser":"p","v":39.5,"f":0.54},{"ser":"p","v":43.4,"f":0.39},{"ser":"p","v":47,"f":0.52},{"ser":"p","v":51,"f":0.32},{"ser":"p","v":55,"f":0.25},{"ser":"p","v":58.8,"f":0.28},{"ser":"p","v":62.6,"f":0.36},{"ser":"p","v":66.5,"f":0.43},{"ser":"p","v":70,"f":0.32},{"ser":"p","v":74,"f":0.01},{"ser":"p","v":78,"f":-0.16},{"ser":"p","v":82,"f":-0.12},{"ser":"p","v":86.5,"f":-0.07},{"ser":"p","v":89.6,"f":0.01},{"ser":"p","v":93.5,"f":0.1},{"ser":"p","v":97,"f":0.17},{"ser":"p","v":100,"f":0.17}
],
"FM Tau": [
{"ser":"p","v":-99,"f":-0.07},{"ser":"p","v":-93,"f":-0.14},{"ser":"p","v":-87.6,"f":-0.14},{"ser":"p","v":-82,"f":-0.07},{"ser":"p","v":-76,"f":0.08},{"ser":"p","v":-72,"f":0.27},{"ser":"p","v":-68,"f":0.36},{"ser":"p","v":-64.4,"f":0.16},{"ser":"p","v":-58.6,"f":0.03},{"ser":"p","v":-52.8,"f":0.03},{"ser":"p","v":-47,"f":0.1},{"ser":"p","v":-41,"f":0.18},{"ser":"p","v":-35.4,"f":0.27},{"ser":"p","v":-31.5,"f":0.42},{"ser":"p","v":-27.6,"f":0.57},{"ser":"p","v":-23.8,"f":0.72},{"ser":"p","v":-21,"f":0.75},{"ser":"p","v":-18.8,"f":0.36},{"ser":"p","v":-15,"f":0.55},{"ser":"p","v":-12,"f":0.8},{"ser":"p","v":-8.3,"f":0.94},{"ser":"p","v":-5.6,"f":1.02},{"ser":"p","v":-2.5,"f":1.0},{"ser":"p","v":1.3,"f":0.9},{"ser":"p","v":5,"f":0.76},{"ser":"p","v":9,"f":0.68},{"ser":"p","v":15,"f":0.6},{"ser":"p","v":20.7,"f":0.48},{"ser":"p","v":26.4,"f":0.44},{"ser":"p","v":30,"f":0.42},{"ser":"p","v":34,"f":0.21},{"ser":"p","v":38,"f":0.16},{"ser":"p","v":42,"f":0.14},{"ser":"p","v":45.8,"f":0.12},{"ser":"p","v":49.7,"f":0.06},{"ser":"p","v":53.6,"f":-0.01},{"ser":"p","v":57.4,"f":0.06},{"ser":"p","v":61.3,"f":0.1},{"ser":"p","v":65,"f":0.06},{"ser":"p","v":69,"f":-0.01},{"ser":"p","v":73,"f":-0.07},{"ser":"p","v":76.8,"f":-0.14},{"ser":"p","v":80.6,"f":-0.09},{"ser":"p","v":84.5,"f":-0.07},{"ser":"p","v":88.4,"f":-0.12},{"ser":"p","v":92,"f":-0.09},{"ser":"p","v":95,"f":-0.14},
{"ser":"k","v":-99,"f":0.01},{"ser":"k","v":-95,"f":0.03},{"ser":"k","v":-91.5,"f":0.0},{"ser":"k","v":-87.6,"f":0.06},{"ser":"k","v":-83.8,"f":0.01},{"ser":"k","v":-80,"f":0.06},{"ser":"k","v":-76,"f":0.01},{"ser":"k","v":-72,"f":0.04},{"ser":"k","v":-66,"f":0.03},{"ser":"k","v":-60.5,"f":0.08},{"ser":"k","v":-54.7,"f":0.06},{"ser":"k","v":-49,"f":0.12},{"ser":"k","v":-43,"f":0.14},{"ser":"k","v":-37.3,"f":0.21},{"ser":"k","v":-31.5,"f":0.27},{"ser":"k","v":-25.7,"f":0.36},{"ser":"k","v":-22,"f":0.44},{"ser":"k","v":-18,"f":0.64},{"ser":"k","v":-14,"f":0.76},{"ser":"k","v":-10,"f":0.85},{"ser":"k","v":-6.4,"f":0.94},{"ser":"k","v":-3.3,"f":1.04},{"ser":"k","v":-0.6,"f":0.98},{"ser":"k","v":3.3,"f":0.85},{"ser":"k","v":7,"f":0.68},{"ser":"k","v":11,"f":0.55},{"ser":"k","v":15,"f":0.44},{"ser":"k","v":18.8,"f":0.36},{"ser":"k","v":24.6,"f":0.29},{"ser":"k","v":30,"f":0.25},{"ser":"k","v":34,"f":0.12},{"ser":"k","v":40,"f":0.18},{"ser":"k","v":45.8,"f":0.16},{"ser":"k","v":51.6,"f":0.14},{"ser":"k","v":57.4,"f":0.1},{"ser":"k","v":63,"f":0.1},{"ser":"k","v":69,"f":0.06},{"ser":"k","v":75,"f":0.03},{"ser":"k","v":80.6,"f":0.03},{"ser":"k","v":86.5,"f":-0.01},{"ser":"k","v":92,"f":0.01},{"ser":"k","v":96,"f":-0.01},{"ser":"k","v":100,"f":0.14}
],
"FZ Tau": [
{"ser":"p","v":-99,"f":-0.13},{"ser":"p","v":-95,"f":-0.01},{"ser":"p","v":-92,"f":0.14},{"ser":"p","v":-89.6,"f":-0.03},{"ser":"p","v":-86,"f":-0.11},{"ser":"p","v":-82,"f":-0.09},{"ser":"p","v":-78.5,"f":-0.01},{"ser":"p","v":-74.7,"f":0.24},{"ser":"p","v":-70.5,"f":0.07},{"ser":"p","v":-66.7,"f":0.03},{"ser":"p","v":-63,"f":-0.09},{"ser":"p","v":-59,"f":-0.07},{"ser":"p","v":-55,"f":-0.01},{"ser":"p","v":-51,"f":0.07},{"ser":"p","v":-47.3,"f":0.16},{"ser":"p","v":-43.5,"f":0.2},{"ser":"p","v":-39.7,"f":0.32},{"ser":"p","v":-36,"f":0.24},{"ser":"p","v":-32,"f":0.26},{"ser":"p","v":-28,"f":0.36},{"ser":"p","v":-24.5,"f":0.44},{"ser":"p","v":-21.8,"f":0.71},{"ser":"p","v":-19.5,"f":0.6},{"ser":"p","v":-17,"f":0.65},{"ser":"p","v":-13,"f":0.77},{"ser":"p","v":-9,"f":0.88},{"ser":"p","v":-5.4,"f":0.98},{"ser":"p","v":-1.5,"f":0.9},{"ser":"p","v":2.3,"f":0.98},{"ser":"p","v":6,"f":0.84},{"ser":"p","v":10,"f":0.67},{"ser":"p","v":12,"f":0.69},{"ser":"p","v":15.7,"f":0.4},{"ser":"p","v":19.5,"f":0.38},{"ser":"p","v":23.4,"f":0.53},{"ser":"p","v":27,"f":0.4},{"ser":"p","v":31,"f":0.28},{"ser":"p","v":35,"f":0.16},{"ser":"p","v":38.7,"f":-0.01},{"ser":"p","v":42.5,"f":-0.05},{"ser":"p","v":46,"f":0.07},{"ser":"p","v":50,"f":-0.09},{"ser":"p","v":54,"f":-0.11},{"ser":"p","v":58,"f":-0.07},{"ser":"p","v":61.7,"f":-0.09},{"ser":"p","v":65.5,"f":0.03},{"ser":"p","v":69,"f":-0.05},{"ser":"p","v":73,"f":-0.09},{"ser":"p","v":77,"f":-0.07},{"ser":"p","v":80.8,"f":-0.11},{"ser":"p","v":84.7,"f":-0.05},{"ser":"p","v":88.5,"f":-0.09},{"ser":"p","v":94,"f":-0.09},{"ser":"p","v":100,"f":-0.11},
{"ser":"k","v":-99,"f":0.03},{"ser":"k","v":-95,"f":0.07},{"ser":"k","v":-91.6,"f":0.01},{"ser":"k","v":-88,"f":0.12},{"ser":"k","v":-84,"f":0.03},{"ser":"k","v":-80,"f":0.12},{"ser":"k","v":-76,"f":0.18},{"ser":"k","v":-72.4,"f":0.12},{"ser":"k","v":-68.6,"f":0.26},{"ser":"k","v":-64.8,"f":0.14},{"ser":"k","v":-61,"f":0.24},{"ser":"k","v":-57,"f":0.18},{"ser":"k","v":-53,"f":0.3},{"ser":"k","v":-49.4,"f":0.22},{"ser":"k","v":-45.6,"f":0.3},{"ser":"k","v":-41.8,"f":0.26},{"ser":"k","v":-38,"f":0.36},{"ser":"k","v":-34,"f":0.3},{"ser":"k","v":-30,"f":0.42},{"ser":"k","v":-26.4,"f":0.36},{"ser":"k","v":-22.6,"f":0.56},{"ser":"k","v":-20.7,"f":0.4},{"ser":"k","v":-18.8,"f":0.65},{"ser":"k","v":-15.7,"f":0.46},{"ser":"k","v":-13,"f":0.73},{"ser":"k","v":-10.3,"f":0.79},{"ser":"k","v":-7.3,"f":0.9},{"ser":"k","v":-5.4,"f":1.02},{"ser":"k","v":-2.7,"f":0.9},{"ser":"k","v":0.4,"f":0.81},{"ser":"k","v":3.4,"f":0.77},{"ser":"k","v":6,"f":0.65},{"ser":"k","v":8.8,"f":0.7},{"ser":"k","v":11.9,"f":0.56},{"ser":"k","v":15.7,"f":0.44},{"ser":"k","v":19.5,"f":0.4},{"ser":"k","v":23.4,"f":0.28},{"ser":"k","v":27,"f":0.34},{"ser":"k","v":31,"f":0.22},{"ser":"k","v":35,"f":0.28},{"ser":"k","v":38.7,"f":0.09},{"ser":"k","v":42.5,"f":0.16},{"ser":"k","v":46,"f":0.07},{"ser":"k","v":50,"f":0.14},{"ser":"k","v":54,"f":-0.01},{"ser":"k","v":56,"f":-0.17},{"ser":"k","v":58,"f":0.03},{"ser":"k","v":61.7,"f":0.12},{"ser":"k","v":65.5,"f":-0.01},{"ser":"k","v":69,"f":0.07},{"ser":"k","v":73,"f":-0.05},{"ser":"k","v":77,"f":0.05},{"ser":"k","v":80.8,"f":-0.01},{"ser":"k","v":84.7,"f":0.07},{"ser":"k","v":88.5,"f":-0.05},{"ser":"k","v":92,"f":0.05},{"ser":"k","v":96,"f":-0.01},{"ser":"k","v":100,"f":0.2}
],
"GI Tau": [
{"ser":"k","v":-100,"f":0.02},{"ser":"k","v":-92,"f":0.0},{"ser":"k","v":-85,"f":0.03},{"ser":"k","v":-78,"f":0.05},{"ser":"k","v":-70,"f":0.08},{"ser":"k","v":-62,"f":0.1},{"ser":"k","v":-55,"f":0.15},{"ser":"k","v":-48,"f":0.2},{"ser":"k","v":-40,"f":0.3},{"ser":"k","v":-34,"f":0.38},{"ser":"k","v":-28,"f":0.48},{"ser":"k","v":-22,"f":0.58},{"ser":"k","v":-16,"f":0.7},{"ser":"k","v":-11,"f":0.82},{"ser":"k","v":-6,"f":0.93},{"ser":"k","v":-2,"f":1.0},{"ser":"k","v":2,"f":0.93},{"ser":"k","v":6,"f":0.84},{"ser":"k","v":10,"f":0.78},{"ser":"k","v":15,"f":0.7},{"ser":"k","v":20,"f":0.62},{"ser":"k","v":25,"f":0.56},{"ser":"k","v":30,"f":0.5},{"ser":"k","v":36,"f":0.44},{"ser":"k","v":42,"f":0.38},{"ser":"k","v":48,"f":0.32},{"ser":"k","v":55,"f":0.26},{"ser":"k","v":62,"f":0.2},{"ser":"k","v":70,"f":0.14},{"ser":"k","v":78,"f":0.08},{"ser":"k","v":85,"f":0.05},{"ser":"k","v":92,"f":0.03},{"ser":"k","v":100,"f":0.02},
{"ser":"p","v":-100,"f":0.0},{"ser":"p","v":-95,"f":-0.05},{"ser":"p","v":-88,"f":0.05},{"ser":"p","v":-80,"f":0.15},{"ser":"p","v":-75,"f":0.05},{"ser":"p","v":-68,"f":0.12},{"ser":"p","v":-60,"f":0.08},{"ser":"p","v":-50,"f":0.15},{"ser":"p","v":-40,"f":0.3},{"ser":"p","v":-35,"f":0.25},{"ser":"p","v":-30,"f":0.45},{"ser":"p","v":-25,"f":0.4},{"ser":"p","v":-20,"f":0.6},{"ser":"p","v":-15,"f":0.65},{"ser":"p","v":-10,"f":0.85},{"ser":"p","v":-5,"f":0.95},{"ser":"p","v":0,"f":0.85},{"ser":"p","v":5,"f":0.8},{"ser":"p","v":10,"f":0.75},{"ser":"p","v":15,"f":0.6},{"ser":"p","v":20,"f":0.7},{"ser":"p","v":25,"f":0.65},{"ser":"p","v":30,"f":0.55},{"ser":"p","v":35,"f":0.6},{"ser":"p","v":40,"f":0.45},{"ser":"p","v":45,"f":0.42},{"ser":"p","v":50,"f":0.35},{"ser":"p","v":55,"f":0.3},{"ser":"p","v":60,"f":0.2},{"ser":"p","v":65,"f":0.25},{"ser":"p","v":70,"f":0.12},{"ser":"p","v":75,"f":0.05},{"ser":"p","v":80,"f":0.0},{"ser":"p","v":85,"f":-0.03},{"ser":"p","v":90,"f":0.02},{"ser":"p","v":95,"f":-0.05},{"ser":"p","v":100,"f":0.0}
],
"GO Tau": [
{"ser":"k","v":-100,"f":0.37},{"ser":"k","v":-95,"f":0.3},{"ser":"k","v":-90,"f":0.15},{"ser":"k","v":-85,"f":0.05},{"ser":"k","v":-80,"f":0.1},{"ser":"k","v":-75,"f":0.2},{"ser":"k","v":-70,"f":0.12},{"ser":"k","v":-65,"f":0.08},{"ser":"k","v":-60,"f":0.15},{"ser":"k","v":-55,"f":0.25},{"ser":"k","v":-50,"f":0.35},{"ser":"k","v":-45,"f":0.3},{"ser":"k","v":-40,"f":0.4},{"ser":"k","v":-35,"f":0.42},{"ser":"k","v":-30,"f":0.38},{"ser":"k","v":-25,"f":0.48},{"ser":"k","v":-20,"f":0.5},{"ser":"k","v":-15,"f":0.45},{"ser":"k","v":-10,"f":0.55},{"ser":"k","v":-5,"f":0.72},{"ser":"k","v":-2,"f":0.76},{"ser":"k","v":2,"f":0.7},{"ser":"k","v":5,"f":0.6},{"ser":"k","v":10,"f":0.5},{"ser":"k","v":15,"f":0.42},{"ser":"k","v":20,"f":0.4},{"ser":"k","v":25,"f":0.45},{"ser":"k","v":30,"f":0.5},{"ser":"k","v":35,"f":0.48},{"ser":"k","v":40,"f":0.5},{"ser":"k","v":45,"f":0.42},{"ser":"k","v":50,"f":0.35},{"ser":"k","v":55,"f":0.3},{"ser":"k","v":60,"f":0.2},{"ser":"k","v":65,"f":0.1},{"ser":"k","v":70,"f":0.0},{"ser":"k","v":75,"f":-0.05},{"ser":"k","v":80,"f":0.02},{"ser":"k","v":85,"f":0.05},{"ser":"k","v":90,"f":0.0},{"ser":"k","v":95,"f":0.05},{"ser":"k","v":100,"f":0.25},
{"ser":"p","v":-100,"f":0.25},{"ser":"p","v":-95,"f":0.2},{"ser":"p","v":-90,"f":0.05},{"ser":"p","v":-85,"f":0.15},{"ser":"p","v":-80,"f":0.35},{"ser":"p","v":-75,"f":0.45},{"ser":"p","v":-70,"f":0.3},{"ser":"p","v":-65,"f":0.15},{"ser":"p","v":-60,"f":0.05},{"ser":"p","v":-55,"f":0.2},{"ser":"p","v":-50,"f":0.35},{"ser":"p","v":-45,"f":0.4},{"ser":"p","v":-40,"f":0.3},{"ser":"p","v":-35,"f":0.35},{"ser":"p","v":-30,"f":0.45},{"ser":"p","v":-25,"f":0.4},{"ser":"p","v":-20,"f":0.5},{"ser":"p","v":-15,"f":0.55},{"ser":"p","v":-10,"f":0.5},{"ser":"p","v":-7,"f":0.7},{"ser":"p","v":-3,"f":0.6},{"ser":"p","v":0,"f":0.62},{"ser":"p","v":5,"f":0.55},{"ser":"p","v":10,"f":0.5},{"ser":"p","v":15,"f":0.4},{"ser":"p","v":20,"f":0.45},{"ser":"p","v":25,"f":0.4},{"ser":"p","v":30,"f":0.35},{"ser":"p","v":35,"f":0.4},{"ser":"p","v":40,"f":0.45},{"ser":"p","v":45,"f":0.38},{"ser":"p","v":50,"f":0.3},{"ser":"p","v":55,"f":0.25},{"ser":"p","v":60,"f":0.3},{"ser":"p","v":65,"f":0.1},{"ser":"p","v":70,"f":-0.05},{"ser":"p","v":75,"f":-0.1},{"ser":"p","v":80,"f":-0.05}
],
"TW Hya": [
{"ser":"k","v":-100,"f":0.05},{"ser":"k","v":-90,"f":0.03},{"ser":"k","v":-80,"f":0.06},{"ser":"k","v":-70,"f":0.04},{"ser":"k","v":-60,"f":0.05},{"ser":"k","v":-50,"f":0.06},{"ser":"k","v":-40,"f":0.05},{"ser":"k","v":-30,"f":0.07},{"ser":"k","v":-20,"f":0.08},{"ser":"k","v":-12,"f":0.12},{"ser":"k","v":-8,"f":0.3},{"ser":"k","v":-5,"f":0.6},{"ser":"k","v":-2,"f":0.95},{"ser":"k","v":0,"f":1.0},{"ser":"k","v":2,"f":0.9},{"ser":"k","v":4,"f":0.6},{"ser":"k","v":7,"f":0.3},{"ser":"k","v":10,"f":0.12},{"ser":"k","v":15,"f":0.08},{"ser":"k","v":20,"f":0.06},{"ser":"k","v":30,"f":0.05},{"ser":"k","v":40,"f":0.04},{"ser":"k","v":50,"f":0.06},{"ser":"k","v":60,"f":0.05},{"ser":"k","v":70,"f":0.03},{"ser":"k","v":80,"f":0.05},{"ser":"k","v":90,"f":0.04},{"ser":"k","v":100,"f":0.05},
{"ser":"p","v":-100,"f":0.0},{"ser":"p","v":-95,"f":0.08},{"ser":"p","v":-90,"f":-0.05},{"ser":"p","v":-85,"f":0.05},{"ser":"p","v":-80,"f":0.1},{"ser":"p","v":-75,"f":-0.05},{"ser":"p","v":-70,"f":0.05},{"ser":"p","v":-65,"f":0.1},{"ser":"p","v":-60,"f":0.02},{"ser":"p","v":-55,"f":0.05},{"ser":"p","v":-50,"f":0.08},{"ser":"p","v":-45,"f":0.1},{"ser":"p","v":-40,"f":0.02},{"ser":"p","v":-35,"f":0.08},{"ser":"p","v":-30,"f":0.05},{"ser":"p","v":-25,"f":0.1},{"ser":"p","v":-20,"f":0.05},{"ser":"p","v":-15,"f":0.08},{"ser":"p","v":-10,"f":0.12},{"ser":"p","v":-6,"f":0.35},{"ser":"p","v":-3,"f":0.75},{"ser":"p","v":-1,"f":0.88},{"ser":"p","v":1,"f":0.85},{"ser":"p","v":3,"f":0.6},{"ser":"p","v":6,"f":0.3},{"ser":"p","v":10,"f":0.1},{"ser":"p","v":14,"f":0.05},{"ser":"p","v":18,"f":-0.05},{"ser":"p","v":22,"f":0.05},{"ser":"p","v":26,"f":0.1},{"ser":"p","v":30,"f":-0.03},{"ser":"p","v":35,"f":0.02},{"ser":"p","v":40,"f":0.05},{"ser":"p","v":45,"f":-0.02},{"ser":"p","v":50,"f":0.08},{"ser":"p","v":55,"f":0.0},{"ser":"p","v":60,"f":0.05},{"ser":"p","v":65,"f":-0.05},{"ser":"p","v":70,"f":0.05},{"ser":"p","v":75,"f":0.02},{"ser":"p","v":80,"f":0.06},{"ser":"p","v":85,"f":-0.02},{"ser":"p","v":90,"f":0.05},{"ser":"p","v":95,"f":0.0},{"ser":"p","v":100,"f":0.04}
],
"V836 Tau": [
{"ser":"k","v":-100,"f":0.05},{"ser":"k","v":-95,"f":0.1},{"ser":"k","v":-90,"f":0.03},{"ser":"k","v":-85,"f":0.08},{"ser":"k","v":-80,"f":0.12},{"ser":"k","v":-75,"f":0.1},{"ser":"k","v":-70,"f":0.2},{"ser":"k","v":-65,"f":0.25},{"ser":"k","v":-60,"f":0.35},{"ser":"k","v":-55,"f":0.45},{"ser":"k","v":-50,"f":0.55},{"ser":"k","v":-45,"f":0.6},{"ser":"k","v":-40,"f":0.7},{"ser":"k","v":-35,"f":0.75},{"ser":"k","v":-30,"f":0.8},{"ser":"k","v":-25,"f":0.85},{"ser":"k","v":-20,"f":0.88},{"ser":"k","v":-15,"f":0.95},{"ser":"k","v":-10,"f":0.9},{"ser":"k","v":-5,"f":0.85},{"ser":"k","v":0,"f":0.85},{"ser":"k","v":5,"f":0.8},{"ser":"k","v":10,"f":0.78},{"ser":"k","v":15,"f":0.7},{"ser":"k","v":20,"f":0.6},{"ser":"k","v":25,"f":0.55},{"ser":"k","v":30,"f":0.45},{"ser":"k","v":35,"f":0.4},{"ser":"k","v":40,"f":0.3},{"ser":"k","v":45,"f":0.25},{"ser":"k","v":50,"f":0.2},{"ser":"k","v":55,"f":0.12},{"ser":"k","v":60,"f":0.05},{"ser":"k","v":65,"f":0.02},{"ser":"k","v":70,"f":-0.02},{"ser":"k","v":75,"f":0.05},{"ser":"k","v":80,"f":0.03},{"ser":"k","v":85,"f":0.08},{"ser":"k","v":90,"f":0.0},{"ser":"k","v":95,"f":0.05},{"ser":"k","v":100,"f":0.1},
{"ser":"p","v":-100,"f":-0.1},{"ser":"p","v":-95,"f":-0.12},{"ser":"p","v":-85,"f":-0.1},{"ser":"p","v":-80,"f":-0.05},{"ser":"p","v":-75,"f":0.3},{"ser":"p","v":-70,"f":0.6},{"ser":"p","v":-67,"f":0.9},{"ser":"p","v":-64,"f":0.6},{"ser":"p","v":-60,"f":0.45},{"ser":"p","v":-55,"f":0.6},{"ser":"p","v":-50,"f":0.85},{"ser":"p","v":-47,"f":0.6},{"ser":"p","v":-43,"f":0.45},{"ser":"p","v":-40,"f":0.55},{"ser":"p","v":-35,"f":0.7},{"ser":"p","v":-30,"f":0.6},{"ser":"p","v":-25,"f":0.75},{"ser":"p","v":-20,"f":0.85},{"ser":"p","v":-15,"f":0.8},{"ser":"p","v":-10,"f":0.7},{"ser":"p","v":-5,"f":0.5},{"ser":"p","v":0,"f":0.6},{"ser":"p","v":3,"f":0.75},{"ser":"p","v":6,"f":0.65},{"ser":"p","v":10,"f":0.8},{"ser":"p","v":15,"f":0.7},{"ser":"p","v":20,"f":0.8},{"ser":"p","v":25,"f":0.75},{"ser":"p","v":30,"f":0.9},{"ser":"p","v":35,"f":0.95},{"ser":"p","v":40,"f":0.85},{"ser":"p","v":45,"f":0.6},{"ser":"p","v":50,"f":0.55},{"ser":"p","v":55,"f":0.5},{"ser":"p","v":60,"f":0.3},{"ser":"p","v":65,"f":0.15},{"ser":"p","v":70,"f":0.0},{"ser":"p","v":75,"f":-0.05}
]
},
"concat": [
{"width":173,"height":100,"data":{"name":"AA Tau"},"title":{"text":"AA Tau","dx":103},"layer":[
 {"mark":{"type":"line","clip":true},"encoding":{"x":{"field":"v","type":"quantitative","scale":{"domain":[-100,100],"nice":false,"zero":false},"axis":{"values":[-100,0,100],"title":null}},"y":{"field":"f","type":"quantitative","scale":{"domain":[-0.13,1.09],"nice":false,"zero":false},"axis":{"values":[0,0.5,1],"title":null}},"color":{"field":"ser","type":"nominal","scale":{"domain":["k","p"],"range":["#000000","#6600cc"]},"legend":null}}},
 {"mark":{"type":"rule","strokeDash":[8,5],"strokeWidth":2.4,"color":"#000000"},"encoding":{"x":{"datum":0}}}]},
{"width":173,"height":100,"data":{"name":"BP Tau"},"title":{"text":"BP Tau","dx":98},"layer":[
 {"mark":{"type":"line","clip":true},"encoding":{"x":{"field":"v","type":"quantitative","scale":{"domain":[-100,100],"nice":false,"zero":false},"axis":{"values":[-100,0,100],"title":null}},"y":{"field":"f","type":"quantitative","scale":{"domain":[-0.13,1.09],"nice":false,"zero":false},"axis":{"values":[0,0.5,1],"title":null}},"color":{"field":"ser","type":"nominal","scale":{"domain":["k","p"],"range":["#000000","#6600cc"]},"legend":null}}},
 {"mark":{"type":"rule","strokeDash":[8,5],"strokeWidth":2.4,"color":"#000000"},"encoding":{"x":{"datum":0}}}]},
{"width":173,"height":100,"data":{"name":"CW Tau"},"title":{"text":"CW Tau","dx":97},"layer":[
 {"mark":{"type":"line","clip":true},"encoding":{"x":{"field":"v","type":"quantitative","scale":{"domain":[-100,100],"nice":false,"zero":false},"axis":{"values":[-100,0,100],"title":null}},"y":{"field":"f","type":"quantitative","scale":{"domain":[-0.13,1.09],"nice":false,"zero":false},"axis":{"values":[0,0.5,1],"title":null}},"color":{"field":"ser","type":"nominal","scale":{"domain":["k","p"],"range":["#000000","#6600cc"]},"legend":null}}},
 {"mark":{"type":"rule","strokeDash":[8,5],"strokeWidth":2.4,"color":"#000000"},"encoding":{"x":{"datum":0}}}]},
{"width":173,"height":100,"data":{"name":"CY Tau"},"title":{"text":"CY Tau","dx":108},"layer":[
 {"mark":{"type":"line","clip":true},"encoding":{"x":{"field":"v","type":"quantitative","scale":{"domain":[-100,100],"nice":false,"zero":false},"axis":{"values":[-100,0,100],"title":null}},"y":{"field":"f","type":"quantitative","scale":{"domain":[-0.13,1.09],"nice":false,"zero":false},"axis":{"values":[0,0.5,1],"title":null}},"color":{"field":"ser","type":"nominal","scale":{"domain":["k","p"],"range":["#000000","#6600cc"]},"legend":null}}},
 {"mark":{"type":"rule","strokeDash":[8,5],"strokeWidth":2.4,"color":"#000000"},"encoding":{"x":{"datum":0}}}]},
{"width":173,"height":100,"data":{"name":"DF Tau"},"title":{"text":"DF Tau","dx":103},"layer":[
 {"mark":{"type":"line","clip":true},"encoding":{"x":{"field":"v","type":"quantitative","scale":{"domain":[-100,100],"nice":false,"zero":false},"axis":{"values":[-100,0,100],"title":null}},"y":{"field":"f","type":"quantitative","scale":{"domain":[-0.11,1.09],"nice":false,"zero":false},"axis":{"values":[0,0.5,1],"title":"Corrected Flux","titleX":-43,"titleY":118}},"color":{"field":"ser","type":"nominal","scale":{"domain":["k","p"],"range":["#000000","#6600cc"]},"legend":null}}},
 {"mark":{"type":"rule","strokeDash":[8,5],"strokeWidth":2.4,"color":"#000000"},"encoding":{"x":{"datum":0}}}]},
{"width":173,"height":100,"data":{"name":"DG Tau"},"title":{"text":"DG Tau","dx":96},"layer":[
 {"mark":{"type":"line","clip":true},"encoding":{"x":{"field":"v","type":"quantitative","scale":{"domain":[-100,100],"nice":false,"zero":false},"axis":{"values":[-100,0,100],"title":null}},"y":{"field":"f","type":"quantitative","scale":{"domain":[-0.11,1.09],"nice":false,"zero":false},"axis":{"values":[0,0.5,1],"title":null}},"color":{"field":"ser","type":"nominal","scale":{"domain":["k","p"],"range":["#000000","#6600cc"]},"legend":null}}},
 {"mark":{"type":"rule","strokeDash":[8,5],"strokeWidth":2.4,"color":"#000000"},"encoding":{"x":{"datum":0}}}]},
{"width":173,"height":100,"data":{"name":"DH Tau"},"title":{"text":"DH Tau","dx":95},"layer":[
 {"mark":{"type":"line","clip":true},"encoding":{"x":{"field":"v","type":"quantitative","scale":{"domain":[-100,100],"nice":false,"zero":false},"axis":{"values":[-100,0,100],"title":null}},"y":{"field":"f","type":"quantitative","scale":{"domain":[-0.12,1.13],"nice":false,"zero":false},"axis":{"values":[0,0.5,1],"title":null}},"color":{"field":"ser","type":"nominal","scale":{"domain":["k","p"],"range":["#000000","#6600cc"]},"legend":null}}},
 {"mark":{"type":"rule","strokeDash":[8,5],"strokeWidth":2.4,"color":"#000000"},"encoding":{"x":{"datum":0}}}]},
{"width":173,"height":100,"data":{"name":"DK Tau"},"title":{"text":"DK Tau","dx":99},"layer":[
 {"mark":{"type":"line","clip":true},"encoding":{"x":{"field":"v","type":"quantitative","scale":{"domain":[-100,100],"nice":false,"zero":false},"axis":{"values":[-100,0,100],"title":null}},"y":{"field":"f","type":"quantitative","scale":{"domain":[-0.12,1.11],"nice":false,"zero":false},"axis":{"values":[0,0.5,1],"title":null}},"color":{"field":"ser","type":"nominal","scale":{"domain":["k","p"],"range":["#000000","#6600cc"]},"legend":null}}},
 {"mark":{"type":"rule","strokeDash":[8,5],"strokeWidth":2.4,"color":"#000000"},"encoding":{"x":{"datum":0}}}]},
{"width":173,"height":100,"data":{"name":"DO Tau"},"title":{"text":"DO Tau","dx":95},"layer":[
 {"mark":{"type":"line","clip":true},"encoding":{"x":{"field":"v","type":"quantitative","scale":{"domain":[-100,100],"nice":false,"zero":false},"axis":{"values":[-100,0,100],"title":null}},"y":{"field":"f","type":"quantitative","scale":{"domain":[-0.12,1.12],"nice":false,"zero":false},"axis":{"values":[0,0.5,1],"title":null}},"color":{"field":"ser","type":"nominal","scale":{"domain":["k","p"],"range":["#000000","#6600cc"]},"legend":null}}},
 {"mark":{"type":"rule","strokeDash":[8,5],"strokeWidth":2.4,"color":"#000000"},"encoding":{"x":{"datum":0}}}]},
{"width":173,"height":100,"data":{"name":"DS Tau"},"title":{"text":"DS Tau","dx":97},"layer":[
 {"mark":{"type":"line","clip":true},"encoding":{"x":{"field":"v","type":"quantitative","scale":{"domain":[-100,100],"nice":false,"zero":false},"axis":{"values":[-100,0,100],"title":null}},"y":{"field":"f","type":"quantitative","scale":{"domain":[-0.12,1.2],"nice":false,"zero":false},"axis":{"values":[0,0.5,1],"title":null}},"color":{"field":"ser","type":"nominal","scale":{"domain":["k","p"],"range":["#000000","#6600cc"]},"legend":null}}},
 {"mark":{"type":"rule","strokeDash":[8,5],"strokeWidth":2.4,"color":"#000000"},"encoding":{"x":{"datum":0}}}]},
{"width":173,"height":100,"data":{"name":"FM Tau"},"title":{"text":"FM Tau","dx":101},"layer":[
 {"mark":{"type":"line","clip":true},"encoding":{"x":{"field":"v","type":"quantitative","scale":{"domain":[-100,100],"nice":false,"zero":false},"axis":{"values":[-100,0,100],"title":null}},"y":{"field":"f","type":"quantitative","scale":{"domain":[-0.14,1.15],"nice":false,"zero":false},"axis":{"values":[0,0.5,1],"title":null}},"color":{"field":"ser","type":"nominal","scale":{"domain":["k","p"],"range":["#000000","#6600cc"]},"legend":null}}},
 {"mark":{"type":"rule","strokeDash":[8,5],"strokeWidth":2.4,"color":"#000000"},"encoding":{"x":{"datum":0}}}]},
{"width":173,"height":100,"data":{"name":"FZ Tau"},"title":{"text":"FZ Tau","dx":103},"layer":[
 {"mark":{"type":"line","clip":true},"encoding":{"x":{"field":"v","type":"quantitative","scale":{"domain":[-100,100],"nice":false,"zero":false},"axis":{"values":[-100,0,100],"title":null}},"y":{"field":"f","type":"quantitative","scale":{"domain":[-0.13,1.1],"nice":false,"zero":false},"axis":{"values":[0,0.5,1],"title":null}},"color":{"field":"ser","type":"nominal","scale":{"domain":["k","p"],"range":["#000000","#6600cc"]},"legend":null}}},
 {"mark":{"type":"rule","strokeDash":[8,5],"strokeWidth":2.4,"color":"#000000"},"encoding":{"x":{"datum":0}}}]},
{"width":173,"height":100,"data":{"name":"GI Tau"},"title":{"text":"GI Tau","dx":103},"layer":[
 {"mark":{"type":"line","clip":true},"encoding":{"x":{"field":"v","type":"quantitative","scale":{"domain":[-100,100],"nice":false,"zero":false},"axis":{"values":[-100,0,100],"title":null}},"y":{"field":"f","type":"quantitative","scale":{"domain":[-0.12,1.12],"nice":false,"zero":false},"axis":{"values":[0,0.5,1],"title":null}},"color":{"field":"ser","type":"nominal","scale":{"domain":["k","p"],"range":["#000000","#6600cc"]},"legend":null}}},
 {"mark":{"type":"rule","strokeDash":[8,5],"strokeWidth":2.4,"color":"#000000"},"encoding":{"x":{"datum":0}}}]},
{"width":173,"height":100,"data":{"name":"GO Tau"},"title":{"text":"GO Tau","dx":102},"layer":[
 {"mark":{"type":"line","clip":true},"encoding":{"x":{"field":"v","type":"quantitative","scale":{"domain":[-100,100],"nice":false,"zero":false},"axis":{"values":[-100,0,100],"title":"Velocity [km/s]","titleX":202,"titleY":30}},"y":{"field":"f","type":"quantitative","scale":{"domain":[-0.1,0.91],"nice":false,"zero":false},"axis":{"values":[0,0.4,0.8],"title":null}},"color":{"field":"ser","type":"nominal","scale":{"domain":["k","p"],"range":["#000000","#6600cc"]},"legend":null}}},
 {"mark":{"type":"rule","strokeDash":[8,5],"strokeWidth":2.4,"color":"#000000"},"encoding":{"x":{"datum":0}}}]},
{"width":173,"height":100,"data":{"name":"TW Hya"},"title":{"text":"TW Hya","dx":87},"layer":[
 {"mark":{"type":"line","clip":true},"encoding":{"x":{"field":"v","type":"quantitative","scale":{"domain":[-100,100],"nice":false,"zero":false},"axis":{"values":[-100,0,100],"title":null}},"y":{"field":"f","type":"quantitative","scale":{"domain":[-0.12,1.12],"nice":false,"zero":false},"axis":{"values":[0,0.5,1],"title":null}},"color":{"field":"ser","type":"nominal","scale":{"domain":["k","p"],"range":["#000000","#6600cc"]},"legend":null}}},
 {"mark":{"type":"rule","strokeDash":[8,5],"strokeWidth":2.4,"color":"#000000"},"encoding":{"x":{"datum":0}}}]},
{"width":173,"height":100,"data":{"name":"V836 Tau"},"title":{"text":"V836 Tau","dx":86},"layer":[
 {"mark":{"type":"line","clip":true},"encoding":{"x":{"field":"v","type":"quantitative","scale":{"domain":[-100,100],"nice":false,"zero":false},"axis":{"values":[-100,0,100],"title":null}},"y":{"field":"f","type":"quantitative","scale":{"domain":[-0.12,1.12],"nice":false,"zero":false},"axis":{"values":[0,0.5,1],"title":null}},"color":{"field":"ser","type":"nominal","scale":{"domain":["k","p"],"range":["#000000","#6600cc"]},"legend":null}}},
 {"mark":{"type":"rule","strokeDash":[8,5],"strokeWidth":2.4,"color":"#000000"},"encoding":{"x":{"datum":0}}}]}
]
}
